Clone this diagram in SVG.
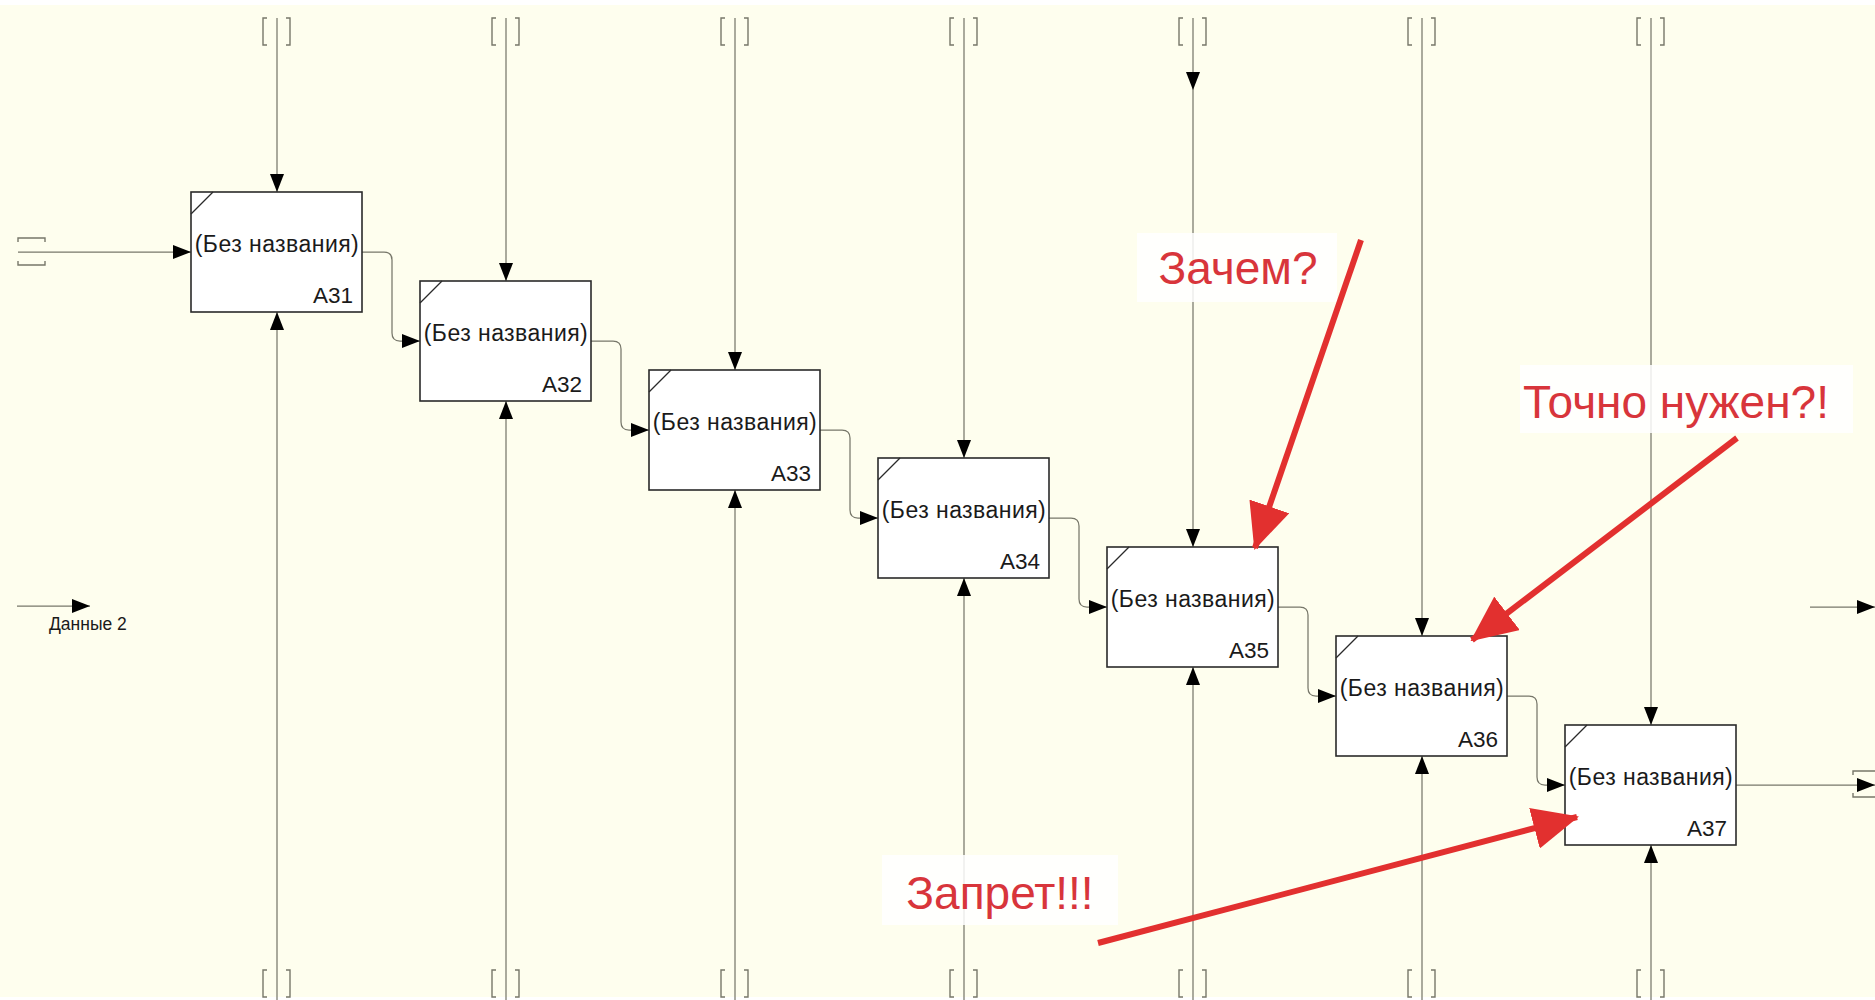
<svg xmlns="http://www.w3.org/2000/svg" xmlns:xlink="http://www.w3.org/1999/xlink" width="1875" height="1000" viewBox="0 0 1875 1000">
<style>
.bg{fill:#fefeee}
.box{fill:#ffffff;stroke:#2a2a2a;stroke-width:1.6}
.corner{stroke:#2a2a2a;stroke-width:1.3;fill:none}
.lbl{font-family:"Liberation Sans",Arial,sans-serif;font-size:23px;letter-spacing:0.45px;fill:#1a1a1a;text-anchor:middle}
.nid{font-family:"Liberation Sans",Arial,sans-serif;font-size:22.5px;fill:#1a1a1a;text-anchor:end}
.ln{stroke:#77776a;stroke-width:1.25;fill:none}
.arr{marker-end:url(#ah)}
.brk{stroke:#77776a;stroke-width:1.4;fill:none}
.small{font-family:"Liberation Sans",Arial,sans-serif;font-size:17.5px;fill:#1a1a1a}
.note{font-family:"Liberation Sans",Arial,sans-serif;font-size:46px;fill:#d8353b;text-anchor:middle}
.notebg{fill:#ffffff;fill-opacity:0.85}
.red{stroke:#e2302f;stroke-width:6;fill:none;marker-end:url(#rah)}
</style>
<defs>
<marker id="ah" markerUnits="userSpaceOnUse" markerWidth="18" markerHeight="14" refX="18" refY="7" orient="auto" viewBox="0 0 18 14">
<path d="M0,0 L18,7 L0,14 z" fill="#000"/>
</marker>
<marker id="rah" markerUnits="userSpaceOnUse" markerWidth="46" markerHeight="42" refX="44" refY="21" orient="auto" viewBox="0 0 46 42">
<path d="M0,0 L46,21 L0,42 z" fill="#e2302f"/>
</marker>
<g id="vbrk">
<path class="brk" d="M-10,0 H-14 V27 H-10 M9,0 H13 V27 H9"/>
</g>
</defs>
<rect width="1875" height="1000" fill="#ffffff"/>
<rect class="bg" x="0" y="5" width="1875" height="992"/>

<g id="connectors">
<use href="#vbrk" x="277" y="18"/><line class="ln arr" x1="277" y1="18" x2="277" y2="192"/>
<use href="#vbrk" x="506" y="18"/><line class="ln arr" x1="506" y1="18" x2="506" y2="281"/>
<use href="#vbrk" x="735" y="18"/><line class="ln arr" x1="735" y1="18" x2="735" y2="370"/>
<use href="#vbrk" x="964" y="18"/><line class="ln arr" x1="964" y1="18" x2="964" y2="458"/>
<use href="#vbrk" x="1193" y="18"/><line class="ln arr" x1="1193" y1="18" x2="1193" y2="90"/><line class="ln arr" x1="1193" y1="90" x2="1193" y2="547"/>
<use href="#vbrk" x="1422" y="18"/><line class="ln arr" x1="1422" y1="18" x2="1422" y2="636"/>
<use href="#vbrk" x="1651" y="18"/><line class="ln arr" x1="1651" y1="18" x2="1651" y2="725"/>
<use href="#vbrk" x="277" y="970"/><line class="ln arr" x1="277" y1="1000" x2="277" y2="312"/>
<use href="#vbrk" x="506" y="970"/><line class="ln arr" x1="506" y1="1000" x2="506" y2="401"/>
<use href="#vbrk" x="735" y="970"/><line class="ln arr" x1="735" y1="1000" x2="735" y2="490"/>
<use href="#vbrk" x="964" y="970"/><line class="ln arr" x1="964" y1="1000" x2="964" y2="578"/>
<use href="#vbrk" x="1193" y="970"/><line class="ln arr" x1="1193" y1="1000" x2="1193" y2="667"/>
<use href="#vbrk" x="1422" y="970"/><line class="ln arr" x1="1422" y1="1000" x2="1422" y2="756"/>
<use href="#vbrk" x="1651" y="970"/><line class="ln arr" x1="1651" y1="1000" x2="1651" y2="845"/>
<path class="brk" d="M18,242 V238 H45 V242 M18,261 V265 H45 V261"/>
<line class="ln arr" x1="18" y1="252" x2="191" y2="252"/>
<path class="ln arr" d="M362,252 H384 Q392,252 392,260 V333 Q392,341 400,341 H420"/>
<path class="ln arr" d="M591,341 H613 Q621,341 621,349 V422 Q621,430 629,430 H649"/>
<path class="ln arr" d="M820,430 H842 Q850,430 850,438 V510 Q850,518 858,518 H878"/>
<path class="ln arr" d="M1049,518 H1071 Q1079,518 1079,526 V599 Q1079,607 1087,607 H1107"/>
<path class="ln arr" d="M1278,607 H1300 Q1308,607 1308,615 V688 Q1308,696 1316,696 H1336"/>
<path class="ln arr" d="M1507,696 H1529 Q1537,696 1537,704 V777 Q1537,785 1545,785 H1565"/>
<path class="brk" d="M1853,775 V771 H1875 M1853,793 V797 H1875"/>
<line class="ln arr" x1="1736" y1="785" x2="1875" y2="785"/>
<line class="ln arr" x1="17" y1="606" x2="90" y2="606"/>
<text class="small" x="49" y="630">Данные 2</text>
<line class="ln arr" x1="1810" y1="607" x2="1875" y2="607"/>
</g>

<g id="A31"><rect class="box" x="191" y="192" width="171" height="120"/><line class="corner" x1="191" y1="214" x2="213" y2="192"/><text class="lbl" x="277" y="252">(Без названия)</text><text class="nid" x="353" y="303">A31</text></g>
<g id="A32"><rect class="box" x="420" y="281" width="171" height="120"/><line class="corner" x1="420" y1="303" x2="442" y2="281"/><text class="lbl" x="506" y="341">(Без названия)</text><text class="nid" x="582" y="392">A32</text></g>
<g id="A33"><rect class="box" x="649" y="370" width="171" height="120"/><line class="corner" x1="649" y1="392" x2="671" y2="370"/><text class="lbl" x="735" y="430">(Без названия)</text><text class="nid" x="811" y="481">A33</text></g>
<g id="A34"><rect class="box" x="878" y="458" width="171" height="120"/><line class="corner" x1="878" y1="480" x2="900" y2="458"/><text class="lbl" x="964" y="518">(Без названия)</text><text class="nid" x="1040" y="569">A34</text></g>
<g id="A35"><rect class="box" x="1107" y="547" width="171" height="120"/><line class="corner" x1="1107" y1="569" x2="1129" y2="547"/><text class="lbl" x="1193" y="607">(Без названия)</text><text class="nid" x="1269" y="658">A35</text></g>
<g id="A36"><rect class="box" x="1336" y="636" width="171" height="120"/><line class="corner" x1="1336" y1="658" x2="1358" y2="636"/><text class="lbl" x="1422" y="696">(Без названия)</text><text class="nid" x="1498" y="747">A36</text></g>
<g id="A37"><rect class="box" x="1565" y="725" width="171" height="120"/><line class="corner" x1="1565" y1="747" x2="1587" y2="725"/><text class="lbl" x="1651" y="785">(Без названия)</text><text class="nid" x="1727" y="836">A37</text></g>

<g id="note-zachem">
<rect class="notebg" x="1137" y="233" width="200" height="69"/>
<text class="note" x="1238" y="284">Зачем?</text>
<line class="red" x1="1361" y1="240" x2="1255" y2="548"/>
</g>
<g id="note-tochno">
<rect class="notebg" x="1520" y="365" width="333" height="68"/>
<text class="note" x="1676" y="418">Точно нужен?!</text>
<line class="red" x1="1737" y1="438" x2="1472" y2="640"/>
</g>
<g id="note-zapret">
<rect class="notebg" x="882" y="855" width="236" height="70"/>
<text class="note" x="1000" y="909">Запрет!!!</text>
<line class="red" x1="1098" y1="943" x2="1577" y2="817"/>
</g>
</svg>
